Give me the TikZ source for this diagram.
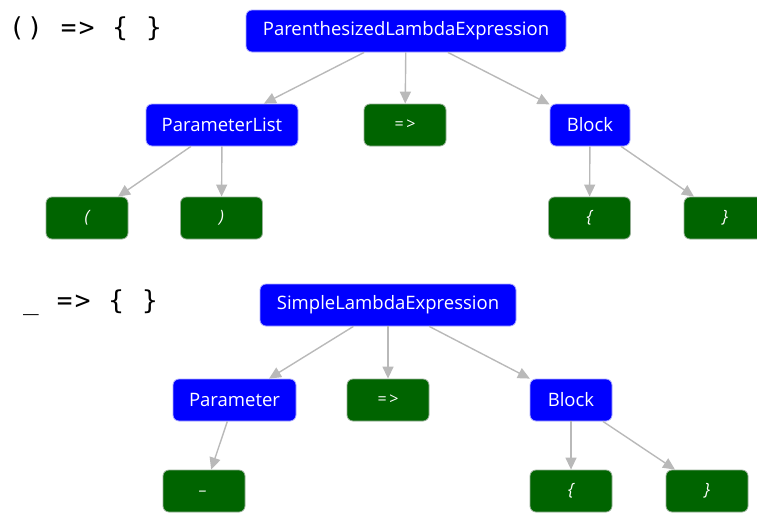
\documentclass[tikz,border=0pt]{standalone}
\usepackage{fontspec}
\setmainfont{Open Sans}
\newfontfamily\codefont[LetterSpace=9]{DejaVu Sans Mono}
\usetikzlibrary{arrows.meta}

\definecolor{synblue}{RGB}{0,0,255}
\definecolor{synblueedge}{RGB}{170,170,255}
\definecolor{tokgreen}{RGB}{0,100,0}
\definecolor{tokedge}{RGB}{150,175,150}
\definecolor{edgegray}{RGB}{185,185,185}

\begin{document}
\begin{tikzpicture}[x=1pt,y=-1pt,
  syn/.style={draw=synblueedge, line width=0.8pt, fill=synblue, rounded corners=6pt,
    text=white, font=\fontsize{18.5}{22}\selectfont, minimum height=42pt, inner xsep=2pt},
  tok/.style={draw=tokedge, line width=0.8pt, fill=tokgreen, rounded corners=6pt,
    text=white, font=\fontsize{17}{20}\selectfont\itshape, minimum height=42pt,
    minimum width=82pt, inner xsep=2pt},
  link/.style={draw=edgegray, line width=1.4pt, -{Triangle[length=12pt,width=11pt]}},
  code/.style={anchor=base west, inner sep=0pt, font=\codefont\fontsize{26}{30}\selectfont}
]
\useasboundingbox (0,0) rectangle (757,512);
\clip (0,0) rectangle (757,512);

% source snippets
\node[code] (src1) at (9,36) {() => \{ \}};
\node[code] (src2) at (23,309) {\_ => \{ \}};

% tree for the parenthesized lambda
\node[syn, minimum width=320pt] (ple) at (406,31) {ParenthesizedLambdaExpression};
\node[syn, minimum width=152pt] (plist) at (222,125) {ParameterList};
\node[tok, font=\fontsize{16}{19}\selectfont] (arrA) at (405,125) {=\,>};
\node[syn, minimum width=80pt] (blkA) at (590,125) {Block};
\node[tok] (lpar) at (87,218) {(};
\node[tok] (rpar) at (221.5,218) {)};
\node[tok] (lbrA) at (589.5,218) {\{};
\node[tok] (rbrA) at (725,218) {\}};

\draw[link] (ple) -- (plist);
\draw[link] (ple) -- (arrA);
\draw[link] (ple) -- (blkA);
\draw[link] (plist) -- (lpar);
\draw[link] (plist) -- (rpar);
\draw[link] (blkA) -- (lbrA);
\draw[link] (blkA) -- (rbrA);

% tree for the simple lambda
\node[syn, minimum width=256pt] (sle) at (388,305) {SimpleLambdaExpression};
\node[syn, minimum width=123pt] (param) at (234.5,400) {Parameter};
\node[tok, font=\fontsize{16}{19}\selectfont] (arrB) at (388,400) {=\,>};
\node[syn, minimum width=82pt] (blkB) at (571,400) {Block};
\node[tok] (under) at (204,491) {\_};
\node[tok] (lbrB) at (571,491) {\{};
\node[tok] (rbrB) at (707,491) {\}};

\draw[link] (sle) -- (param);
\draw[link] (sle) -- (arrB);
\draw[link] (sle) -- (blkB);
\draw[link] (param) -- (under);
\draw[link] (blkB) -- (lbrB);
\draw[link] (blkB) -- (rbrB);
\end{tikzpicture}
\end{document}
